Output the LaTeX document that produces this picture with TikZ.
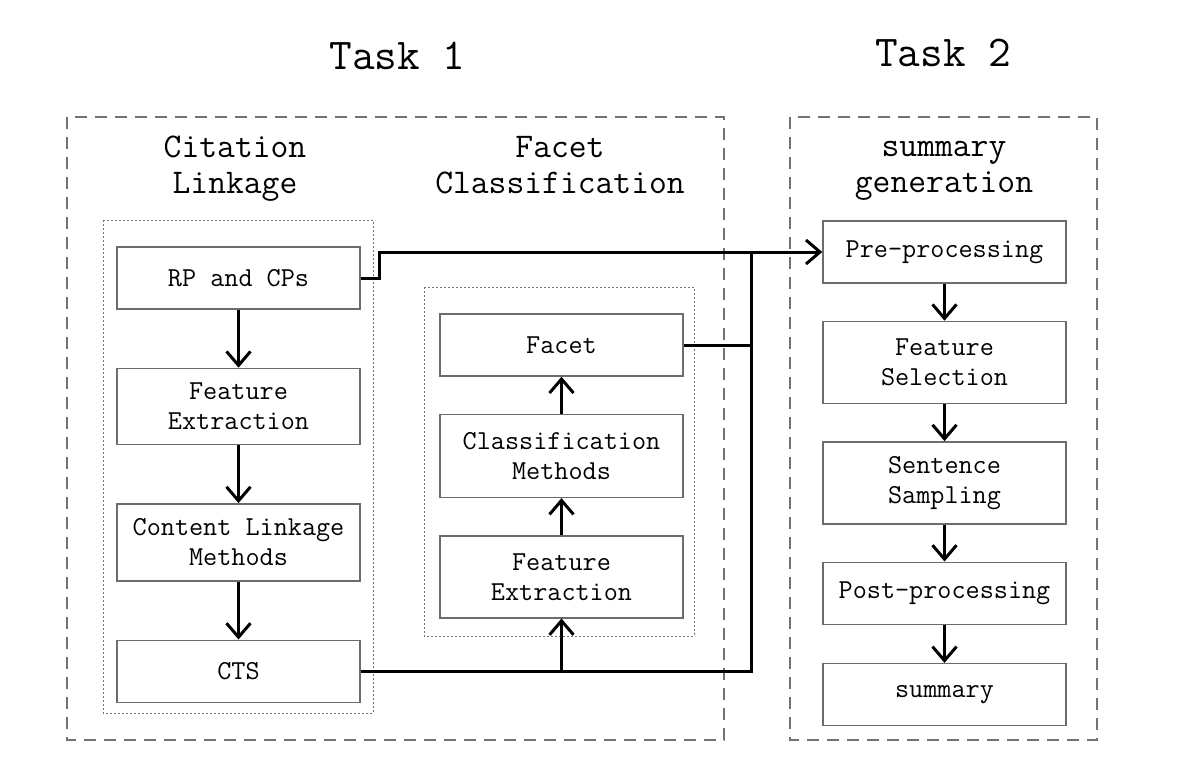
\documentclass[tikz,border=0pt]{standalone}
\usetikzlibrary{arrows.meta, positioning}

\begin{document}
\begin{tikzpicture}[x=0.5pt, y=-0.5pt,
    font=\ttfamily\fontsize{13.7}{15}\selectfont,
    box/.style={draw=gray!85!black, line width=0.7pt, minimum width=121.5pt, minimum height=31pt, align=center, inner sep=0pt},
    tall/.style={box, minimum height=41pt},
    head/.style={align=center, font=\ttfamily\fontsize{17.3}{18}\selectfont},
    task/.style={font=\ttfamily\fontsize{22}{24}\selectfont},
    frame/.style={draw=gray!90!black, line width=0.6pt, dash pattern=on 6pt off 4pt},
    dotframe/.style={draw=gray!90!black, line width=0.5pt, dash pattern=on 1pt off 1pt},
    link/.style={line width=1.5pt},
    arr/.style={link, -{Straight Barb[length=7pt, width=12pt]}},
    ]
    \useasboundingbox (0,0) rectangle (1186,781);

    % Titles
    \node[task] (task1) at (397.5,56) {Task 1};
    \node[task] (task2) at (943,53) {Task 2};
    \node[head] (citehead) at (235,169) {Citation\\Linkage};
    \node[head] (facethead) at (560,165) {Facet\\Classification};
    \node[head] (sumhead) at (944,171) {summary\\generation};

    % Frames
    \draw[frame] (67,117) rectangle (724,740);
    \draw[frame] (790,117) rectangle (1097,740);
    \draw[dotframe] (103,220) rectangle (373,713);
    \draw[dotframe] (424,287) rectangle (694,636);

    % Citation linkage
    \node[box] (rp) at (238.5,278) {RP and CPs};
    \node[box, minimum height=38pt, below=29pt of rp] (featext) {Feature\\Extraction};
    \node[box, minimum height=38.5pt, below=29pt of featext] (linkmeth) {Content Linkage\\Methods};
    \node[box, below=29pt of linkmeth] (cts) {CTS};

    % Facet classification
    \node[box] (facet) at (561.5,345) {Facet};
    \node[box, minimum height=41.5pt, below=18.5pt of facet] (classmeth) {Classification\\Methods};
    \node[tall, below=18.5pt of classmeth] (facetext) {Feature\\Extraction};

    % Summary generation
    \node[box] (pre) at (944.5,252) {Pre-processing};
    \node[tall, below=18.5pt of pre] (featsel) {Feature\\Selection};
    \node[tall, below=18.5pt of featsel] (sampling) {Sentence\\Sampling};
    \node[box, below=18.5pt of sampling] (post) {Post-processing};
    \node[box, below=19pt of post] (summary) {summary};

    % Arrows inside columns
    \foreach \a/\b in {rp/featext, featext/linkmeth, linkmeth/cts, pre/featsel, featsel/sampling, sampling/post, post/summary, facetext/classmeth, classmeth/facet}
      \draw[arr] (\a) -- (\b);

    % Links between tasks
    \coordinate (bus) at (751,252);
    \draw[arr] (rp.east) -- ++(9.5pt,0) |- (pre.west);
    \draw[link] (cts.east) -| (bus);
    \draw[link] (facet.east) -- (facet.east -| bus);
    \draw[arr] (facetext.south |- cts.east) -- (facetext.south);
\end{tikzpicture}
\end{document}
